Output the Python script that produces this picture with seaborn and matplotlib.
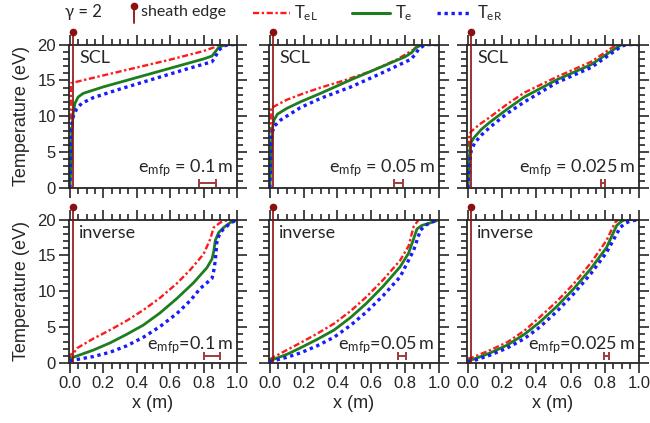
import numpy as np
import pandas as pd
import matplotlib
matplotlib.use("Agg")
import matplotlib.pyplot as plt
import seaborn as sns
from matplotlib.ticker import MultipleLocator

# ---- data (x in m, T in eV) ----
# top row: SCL
scl1_L_x = [0.0, 0.004, 0.006, 0.02, 0.2, 0.4, 0.6, 0.8, 0.86, 0.88, 0.92, 1.0]
scl1_L_T = [0, 3, 14.6, 14.7, 15.7, 16.8, 17.9, 19.1, 19.6, 19.9, 20, 20]
scl1_e_x = [0.0, 0.008, 0.012, 0.02, 0.03, 0.05, 0.08, 0.2, 0.4, 0.6, 0.8, 0.85, 0.87, 0.89, 0.93, 1.0]
scl1_e_T = [0, 4, 8, 10.5, 11.8, 12.7, 13.2, 14.1, 15.4, 16.7, 18.0, 18.4, 19.0, 19.6, 20, 20]
scl1_R_x = [0.0, 0.005, 0.01, 0.02, 0.04, 0.07, 0.14, 0.3, 0.5, 0.7, 0.85, 0.87, 0.89, 0.92, 0.95, 1.0]
scl1_R_T = [0, 5, 8.5, 10.0, 11.0, 11.8, 12.6, 13.8, 15.2, 16.6, 17.6, 18.3, 19.2, 19.8, 20, 20]

scl2_L_x = [0.0, 0.004, 0.006, 0.02, 0.1, 0.2, 0.3, 0.44, 0.6, 0.75, 0.85, 0.87, 0.9, 1.0]
scl2_L_T = [0, 3, 11.2, 11.3, 12.3, 13.2, 14.0, 15.0, 16.3, 17.9, 19.3, 19.8, 20, 20]
scl2_e_x = [0.0, 0.008, 0.015, 0.025, 0.045, 0.1, 0.18, 0.3, 0.48, 0.65, 0.8, 0.84, 0.86, 0.9, 1.0]
scl2_e_T = [0, 5, 8.3, 9.5, 10.3, 11.1, 12.0, 13.2, 15.1, 16.8, 18.3, 18.9, 19.5, 20, 20]
scl2_R_x = [0.0, 0.005, 0.012, 0.025, 0.065, 0.18, 0.3, 0.48, 0.65, 0.83, 0.86, 0.88, 0.92, 1.0]
scl2_R_T = [0, 4, 7.5, 8.6, 9.5, 11.2, 12.5, 14.1, 15.9, 17.9, 18.6, 19.4, 20, 20]

scl3_L_x = [0.0, 0.005, 0.008, 0.02, 0.07, 0.13, 0.23, 0.33, 0.52, 0.72, 0.85, 0.87, 1.0]
scl3_L_T = [0, 3, 7.5, 7.9, 8.9, 9.9, 11.7, 13.3, 15.5, 17.6, 19.7, 20, 20]
scl3_e_x = [0.0, 0.008, 0.015, 0.035, 0.08, 0.13, 0.23, 0.33, 0.52, 0.72, 0.87, 0.9, 1.0]
scl3_e_T = [0, 4, 6.2, 7.0, 8.2, 9.2, 11.0, 12.7, 15.1, 17.2, 19.6, 20, 20]
scl3_R_x = [0.0, 0.008, 0.02, 0.04, 0.08, 0.13, 0.23, 0.33, 0.52, 0.72, 0.87, 0.9, 0.93, 1.0]
scl3_R_T = [0, 3, 5.3, 6.3, 7.4, 8.5, 10.4, 12.0, 14.7, 16.8, 19.3, 19.8, 20, 20]

# bottom row: inverse
inv1_L_x = [0.0, 0.005, 0.02, 0.045, 0.14, 0.24, 0.34, 0.44, 0.54, 0.64, 0.72, 0.8, 0.84, 0.86, 0.9, 0.95, 1.0]
inv1_L_T = [0.6, 1.2, 1.3, 2.1, 3.4, 4.6, 5.9, 7.4, 9.1, 11.1, 13.0, 15.2, 17.3, 18.9, 19.6, 20, 20]
inv1_e_x = [0.0, 0.02, 0.14, 0.24, 0.34, 0.44, 0.54, 0.64, 0.74, 0.82, 0.85, 0.86, 0.87, 0.89, 0.92, 0.96, 1.0]
inv1_e_T = [0.6, 0.8, 1.8, 2.8, 4.0, 5.3, 7.0, 9.0, 11.2, 13.3, 14.5, 15.5, 17.1, 18.2, 18.9, 19.6, 20]
inv1_R_x = [0.0, 0.02, 0.14, 0.24, 0.34, 0.44, 0.54, 0.64, 0.72, 0.78, 0.85, 0.86, 0.87, 0.88, 0.9, 0.92, 0.96, 1.0]
inv1_R_T = [0.3, 0.4, 0.9, 1.5, 2.4, 3.6, 5.1, 6.9, 8.7, 10.4, 11.8, 12.8, 14.3, 17.1, 18.2, 18.7, 19.5, 20]

inv2_L_x = [0.0, 0.02, 0.1, 0.18, 0.28, 0.38, 0.48, 0.57, 0.67, 0.77, 0.82, 0.85, 0.88, 1.0]
inv2_L_T = [0.5, 0.8, 1.8, 2.8, 4.1, 5.5, 7.3, 9.2, 11.6, 14.3, 16.3, 19.0, 20, 20]
inv2_e_x = [0.0, 0.02, 0.1, 0.18, 0.28, 0.38, 0.48, 0.57, 0.67, 0.77, 0.82, 0.85, 0.87, 0.9, 0.93, 0.98, 1.0]
inv2_e_T = [0.4, 0.5, 1.2, 2.1, 3.3, 4.6, 6.4, 8.3, 10.7, 13.4, 15.3, 17.3, 18.7, 19.2, 19.4, 19.8, 20]
inv2_R_x = [0.0, 0.02, 0.1, 0.18, 0.28, 0.38, 0.48, 0.57, 0.67, 0.77, 0.85, 0.89, 0.92, 0.95, 1.0]
inv2_R_T = [0.2, 0.3, 0.8, 1.4, 2.4, 3.6, 5.3, 7.1, 9.4, 12.0, 15.7, 18.5, 19.2, 19.6, 20]

inv3_L_x = [0.0, 0.03, 0.13, 0.23, 0.33, 0.42, 0.52, 0.62, 0.72, 0.81, 0.86, 0.88, 1.0]
inv3_L_T = [0.6, 0.8, 1.8, 2.9, 4.5, 6.4, 8.6, 11.1, 14.0, 17.1, 19.6, 20, 20]
inv3_e_x = [0.0, 0.03, 0.13, 0.23, 0.33, 0.42, 0.52, 0.62, 0.72, 0.81, 0.87, 0.9, 0.92, 1.0]
inv3_e_T = [0.4, 0.5, 1.4, 2.5, 4.0, 5.7, 7.9, 10.4, 13.2, 16.1, 19.2, 19.8, 20, 20]
inv3_R_x = [0.0, 0.03, 0.13, 0.23, 0.33, 0.42, 0.52, 0.62, 0.72, 0.81, 0.89, 0.92, 0.95, 1.0]
inv3_R_T = [0.2, 0.3, 1.1, 2.1, 3.4, 5.0, 7.2, 9.7, 12.5, 15.4, 18.9, 19.5, 19.8, 20]

mfp_values = [0.1, 0.05, 0.025]
mfp_labels = ["0.1", "0.05", "0.025"]
bar_centres_top = [0.825, 0.76, 0.79]
bar_centres_bot = [0.85, 0.78, 0.81]
row_labels = ["SCL", "inverse"]
sheath_x = 0.02

panels = [
    [(scl1_L_x, scl1_L_T, scl1_e_x, scl1_e_T, scl1_R_x, scl1_R_T),
     (scl2_L_x, scl2_L_T, scl2_e_x, scl2_e_T, scl2_R_x, scl2_R_T),
     (scl3_L_x, scl3_L_T, scl3_e_x, scl3_e_T, scl3_R_x, scl3_R_T)],
    [(inv1_L_x, inv1_L_T, inv1_e_x, inv1_e_T, inv1_R_x, inv1_R_T),
     (inv2_L_x, inv2_L_T, inv2_e_x, inv2_e_T, inv2_R_x, inv2_R_T),
     (inv3_L_x, inv3_L_T, inv3_e_x, inv3_e_T, inv3_R_x, inv3_R_T)],
]

# ---- style ----
sns.set_theme(style="ticks")
plt.rcParams["font.family"] = ["Liberation Sans", "DejaVu Sans"]
plt.rcParams["axes.linewidth"] = 1.3
plt.rcParams["mathtext.default"] = "regular"

red = "#ff1a1a"
green = "#1e7d1e"
blue = "#1a1aff"
sheath_col = "#8b1111"
bar_col = "#a03a3a"
note_font = ["Lato", "DejaVu Sans"]

fig = plt.figure(figsize=(6.5, 4.23), dpi=100)

lefts = [0.1062, 0.4138, 0.7185]
widths = [0.2585, 0.2615, 0.2646]
bottoms = [0.5556, 0.1418]
height = 0.339

for r in range(2):
    for c in range(3):
        ax = fig.add_axes([lefts[c], bottoms[r], widths[c], height])
        Lx, LT, ex, eT, Rx, RT = panels[r][c]
        sns.lineplot(x=Lx, y=LT, ax=ax, color=red, lw=1.7, sort=False, estimator=None)
        ax.lines[-1].set_dashes([2.6, 1.1, 1, 1.1])
        sns.lineplot(x=ex, y=eT, ax=ax, color=green, lw=2.0, sort=False, estimator=None)
        sns.lineplot(x=Rx, y=RT, ax=ax, color=blue, lw=2.4, sort=False, estimator=None)
        ax.lines[-1].set_dashes([1, 1.1])

        # sheath edge marker
        ax.plot([sheath_x, sheath_x], [0, 21.7], color=sheath_col, lw=1.2, clip_on=False, zorder=5)
        ax.plot([sheath_x], [21.7], "o", color=sheath_col, ms=4.5, clip_on=False, zorder=5)

        # mean free path bar
        xc = bar_centres_top[c] if r == 0 else bar_centres_bot[c]
        yb = 0.7 if r == 0 else 1.0
        ax.errorbar([xc], [yb], xerr=[mfp_values[c] / 2], color=bar_col, lw=1.4,
                    capsize=3, capthick=1.4, fmt="none")

        ax.set_xlim(-0.005, 1.0)
        ax.set_ylim(0, 20)
        ax.xaxis.set_major_locator(MultipleLocator(0.2))
        ax.xaxis.set_minor_locator(MultipleLocator(0.05))
        ax.yaxis.set_major_locator(MultipleLocator(5))
        ax.yaxis.set_minor_locator(MultipleLocator(1))
        ax.tick_params(which="both", direction="out", top=True, right=True,
                       width=1.2, labelsize=12, pad=2.5)
        ax.tick_params(which="major", length=7)
        ax.tick_params(which="minor", length=4.5)

        if c == 0:
            ax.set_ylabel("Temperature (eV)", fontsize=13, labelpad=5)
            ax.yaxis.set_major_formatter(plt.FuncFormatter(lambda v, p: f"{v:.0f}"))
        else:
            ax.set_yticklabels([])
            ax.set_ylabel("")
        if r == 1:
            ax.set_xlabel("x (m)", fontsize=13, labelpad=3)
            ax.xaxis.set_major_formatter(plt.FuncFormatter(lambda v, p: f"{v:.1f}"))
        else:
            ax.set_xticklabels([])
            ax.set_xlabel("")

        ax.text(0.06, 0.965, row_labels[r], transform=ax.transAxes, ha="left", va="top",
                fontsize=13, family=note_font)
        eq = " = " if r == 0 else "="
        ax.text(0.975, 0.14 if r == 0 else 0.125,
                r"e$_{mfp}$" + eq + mfp_labels[c] + r"$\,$m",
                transform=ax.transAxes, ha="right", va="center", fontsize=13, family=note_font)

# ---- legend row across the top (pixel layout) ----
lg = fig.add_axes([0, 0, 1, 1], zorder=-1)
lg.set_xlim(0, 650)
lg.set_ylim(423, 0)
lg.axis("off")
lg.text(65, 12, "\u03b3 = 2", ha="left", va="center", fontsize=12, family=note_font)
lg.plot([134, 134], [6, 23], color=sheath_col, lw=1.3)
lg.plot([134], [6], "o", color=sheath_col, ms=4.5)
lg.text(141, 12, "sheath edge", ha="left", va="center", fontsize=11.5, family=note_font)
l1, = lg.plot([253, 290], [13, 13], color=red, lw=1.7)
l1.set_dashes([2.6, 1.1, 1, 1.1])
lg.text(294, 13, r"T$_{eL}$", ha="left", va="center", fontsize=12, family=note_font)
lg.plot([352, 390], [13, 13], color=green, lw=2.2)
lg.text(395, 13, r"T$_{e}$", ha="left", va="center", fontsize=12, family=note_font)
l3, = lg.plot([437, 472], [13, 13], color=blue, lw=2.4)
l3.set_dashes([1, 1.1])
lg.text(477, 13, r"T$_{eR}$", ha="left", va="center", fontsize=12, family=note_font)

fig.savefig("out.png", dpi=100)
